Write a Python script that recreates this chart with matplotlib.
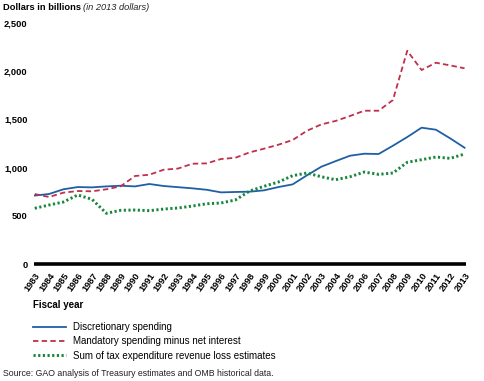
import matplotlib
matplotlib.use("Agg")
import matplotlib.pyplot as plt
from matplotlib.lines import Line2D

plt.rcParams['font.family'] = ['Liberation Sans', 'DejaVu Sans']

years = list(range(1983, 2014))
discretionary = [710, 726, 775, 798, 795, 805, 812, 805, 830, 809, 797, 785, 770, 743, 747,
                 750, 764, 798, 826, 920, 1009, 1067, 1123, 1144, 1141, 1227, 1317, 1414,
                 1393, 1303, 1206]
mandatory = [726, 695, 740, 757, 754, 775, 806, 913, 926, 978, 990, 1040, 1044, 1089, 1102,
             1158, 1196, 1237, 1286, 1382, 1448, 1484, 1535, 1590, 1590, 1701, 2212, 2012,
             2088, 2060, 2030]
tax_exp = [578, 612, 643, 716, 671, 526, 557, 560, 553, 570, 581, 601, 625, 633, 664,
           757, 806, 850, 916, 944, 905, 874, 905, 954, 930, 944, 1055, 1082, 1110, 1096,
           1141]

series_labels = ["Discretionary spending",
                 "Mandatory spending minus net interest",
                 "Sum of tax expenditure revenue loss estimates"]
yticks = [0, 500, 1000, 1500, 2000, 2500]
ytick_labels = ["0", "500", "1,000", "1,500", "2,000", "2,500"]

BLUE = "#1f5fa6"
RED = "#c0304a"
GREEN = "#17873a"

fig = plt.figure(figsize=(4.84, 3.81), dpi=100)
ax = fig.add_axes([34/484, 1 - 264/381, 432/484, 241/381])

ax.plot(years, discretionary, color=BLUE, lw=1.3, solid_joinstyle='round')
ax.plot(years, mandatory, color=RED, lw=1.3, linestyle=(0, (3, 1.8)))
ax.plot(years, tax_exp, color=GREEN, lw=2.1, linestyle=(0, (0.75, 0.85)))

ax.set_xlim(1982.95, 2013.1)
ax.set_ylim(0, 2500)
ax.set_yticks(yticks)
ax.set_yticklabels(ytick_labels, fontsize=6.7, fontweight='bold')
ax.set_xticks(years)
ax.set_xticklabels([str(y) for y in years], fontsize=6.7, fontweight='bold',
                   rotation=55, ha='right', va='top', rotation_mode='anchor')
ax.tick_params(axis='y', length=0, pad=4.5)
ax.tick_params(axis='x', length=0, pad=5)
for s in ['top', 'right', 'left']:
    ax.spines[s].set_visible(False)
ax.spines['bottom'].set_linewidth(2.6)
ax.spines['bottom'].set_color('black')
ax.spines['bottom'].set_capstyle('butt')

fig.text(3/484, 1 - 7.5/381, "Dollars in billions", fontsize=6.7, fontweight='bold',
         ha='left', va='center')
fig.text(83/484, 1 - 7.5/381, "(in 2013 dollars)", fontsize=6.7, fontstyle='italic',
         ha='left', va='center', color='#222222')

fig.text(33/484, 1 - 305/381, "Fiscal year", fontsize=7, fontweight='bold',
         ha='left', va='center')

handles = [Line2D([], [], color=BLUE, lw=1.3),
           Line2D([], [], color=RED, lw=1.3, linestyle=(0, (3, 1.8))),
           Line2D([], [], color=GREEN, lw=2.1, linestyle=(0, (0.75, 0.85)))]
fig.legend(handles, series_labels, loc='upper left',
           bbox_to_anchor=(33/484, 1 - 322/381), frameon=False, fontsize=7,
           handlelength=3.4, handletextpad=0.7, labelspacing=0.45,
           borderaxespad=0, borderpad=0)

fig.text(3/484, 1 - 373/381,
         "Source: GAO analysis of Treasury estimates and OMB historical data.",
         fontsize=6.3, ha='left', va='center', color='#222222')

fig.savefig("out.png", dpi=100)
